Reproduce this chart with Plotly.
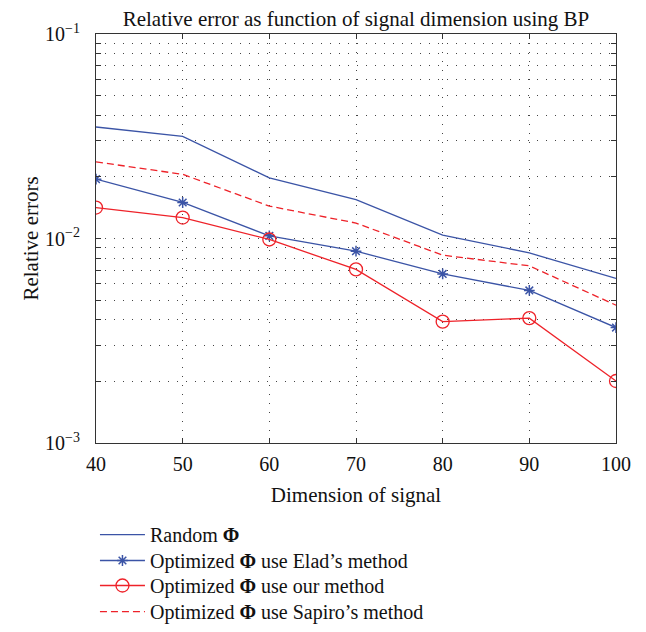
import plotly.graph_objects as go

dims = [40, 50, 60, 70, 80, 90, 100]
random_phi = [0.0351, 0.0316, 0.0198, 0.0155, 0.0104, 0.0085, 0.00638]
elad_phi = [0.0195, 0.0150, 0.0103, 0.00867, 0.00671, 0.00557, 0.00367]
our_phi = [0.01417, 0.01266, 0.00989, 0.00706, 0.00392, 0.00408, 0.00201]
sapiro_phi = [0.0237, 0.0206, 0.0144, 0.0119, 0.00829, 0.00735, 0.00472]

x_ticks = [40, 50, 60, 70, 80, 90, 100]
decades = [-3, -2, -1]

BLUE = "#3B54A6"
RED = "#EE2229"
FONT = "Liberation Serif"
TXT = "#111111"

y_tickvals = []
y_ticktext = []
for d in decades:
    for m in range(1, 10):
        if d == -1 and m > 1:
            break
        y_tickvals.append(m * 10.0 ** d)
        y_ticktext.append(f"10<sup>−{-d}</sup>" if m == 1 else "")

fig = go.Figure()
fig.add_trace(go.Scatter(x=dims, y=random_phi, mode="lines", name="Random <b>Φ</b>",
                         line=dict(color=BLUE, width=1.3), legend="legend"))
fig.add_trace(go.Scatter(x=dims, y=elad_phi, mode="lines+markers", name="Optimized <b>Φ</b> use Elad’s method",
                         line=dict(color=BLUE, width=1.3), legend="legend2",
                         marker=dict(symbol="asterisk-open", size=9, color=BLUE, line=dict(color=BLUE, width=1.5))))
fig.add_trace(go.Scatter(x=dims, y=our_phi, mode="lines+markers", name="Optimized <b>Φ</b> use our method",
                         line=dict(color=RED, width=1.3), legend="legend3",
                         marker=dict(symbol="circle-open", size=13, color=RED, line=dict(color=RED, width=1.3))))
fig.add_trace(go.Scatter(x=dims, y=sapiro_phi, mode="lines", name="Optimized <b>Φ</b> use Sapiro’s method",
                         line=dict(color=RED, width=1.3, dash="7px,4px"), legend="legend4"))

axis_common = dict(
    showline=True, linecolor="#333333", linewidth=1.2, mirror="ticks",
    ticks="inside", ticklen=5, tickcolor="#333333",
    showgrid=True, gridcolor="#444444", gridwidth=1.3, griddash="1px,8px",
    zeroline=False, automargin=False,
    tickfont=dict(family=FONT, size=20, color=TXT),
)

fig.update_xaxes(range=[40, 100], tickvals=x_ticks, ticktext=[str(v) for v in x_ticks],
                 ticklabelstandoff=3,
                 title=dict(text="Dimension of signal", font=dict(family=FONT, size=21, color=TXT), standoff=13),
                 **axis_common)
fig.update_yaxes(type="log", range=[-3, -1], tickvals=y_tickvals, ticktext=y_ticktext,
                 ticklabelstandoff=11,
                 title=dict(text="Relative errors", font=dict(family=FONT, size=21, color=TXT), standoff=0),
                 **axis_common)

legend_common = dict(x=-0.002, xref="paper", yref="container", yanchor="middle", xanchor="left",
                     font=dict(family=FONT, size=20, color=TXT),
                     bgcolor="rgba(0,0,0,0)", itemwidth=45)

fig.update_layout(
    width=638, height=624,
    margin=dict(l=88, r=30, t=26, b=189),
    plot_bgcolor="white", paper_bgcolor="white",
    title=dict(text="Relative error as function of signal dimension using BP",
               font=dict(family=FONT, size=21, color=TXT),
               x=0.5, xref="paper", y=0.994, yref="container", yanchor="top"),
    showlegend=True,
    legend=dict(y=0.1562, **legend_common),
    legend2=dict(y=0.1146, **legend_common),
    legend3=dict(y=0.0745, **legend_common),
    legend4=dict(y=0.0328, **legend_common),
)

fig.write_html("out.html")
